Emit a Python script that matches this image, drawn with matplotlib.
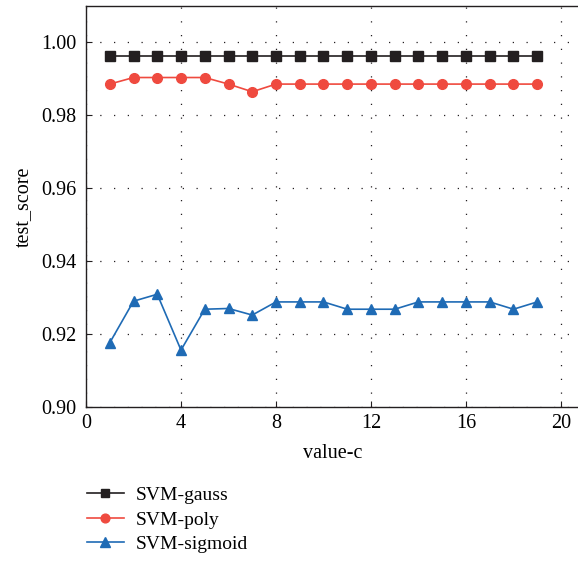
import numpy as np
import matplotlib.pyplot as plt

plt.rcParams['font.family'] = ['Liberation Serif', 'DejaVu Serif']

c_values = list(range(1, 20))
svm_gauss = [0.9962] * 19
svm_poly = [0.9885, 0.9903, 0.9903, 0.9903, 0.9903, 0.9885, 0.9864,
            0.9885, 0.9885, 0.9885, 0.9885, 0.9885, 0.9885, 0.9885,
            0.9885, 0.9885, 0.9885, 0.9885, 0.9885]
svm_sigmoid = [0.9176, 0.9290, 0.9309, 0.9156, 0.9268, 0.9270, 0.9252,
               0.9288, 0.9288, 0.9288, 0.9268, 0.9268, 0.9268, 0.9288,
               0.9288, 0.9288, 0.9288, 0.9268, 0.9288]

fig = plt.figure(figsize=(5.78, 5.61), dpi=100)
ax = fig.add_axes([0.1488, 0.2745, 0.853, 0.7148])

ax.plot(c_values, svm_gauss, color='#231f20', marker='s', markersize=7,
        linewidth=1.2, label='SVM-gauss')
ax.plot(c_values, svm_poly, color='#ef4a3f', marker='o', markersize=7,
        linewidth=1.2, label='SVM-poly')
ax.plot(c_values, svm_sigmoid, color='#1f6bb5', marker='^', markersize=7.5,
        linewidth=1.2, label='SVM-sigmoid')

ax.set_xlim(0, 20.76)
ax.set_ylim(0.90, 1.0099)
ax.set_xticks([0, 4, 8, 12, 16, 20])
ax.set_yticks([0.90, 0.92, 0.94, 0.96, 0.98, 1.00])
ax.set_yticklabels(['0.90', '0.92', '0.94', '0.96', '0.98', '1.00'])
ax.tick_params(direction='in', labelsize=14.5, length=4, color='#231f20')
ax.tick_params(axis='y', pad=7)
ax.tick_params(axis='x', pad=5)
ax.grid(True, linestyle=(0, (1, 10)), color='#231f20', linewidth=0.9)
ax.spines['right'].set_visible(False)
for s in ax.spines.values():
    s.set_color('#231f20')
    s.set_linewidth(1.0)

ax.set_xlabel('value-c', fontsize=14.5, labelpad=8)
ax.set_ylabel('test_score', fontsize=14.5, labelpad=6)

fig.legend(loc='upper left', bbox_to_anchor=(0.137, 0.147), frameon=False,
           fontsize=14, handlelength=1.9, handletextpad=0.6, labelspacing=0.36,
           markerscale=0.9, borderaxespad=0)

fig.savefig('out.png', dpi=100)
